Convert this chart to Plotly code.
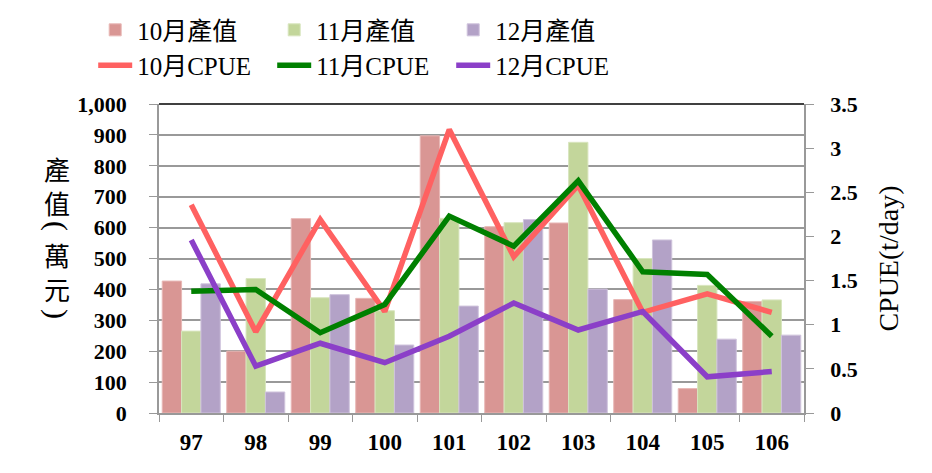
import plotly.graph_objects as go

years = ["97", "98", "99", "100", "101", "102", "103", "104", "105", "106"]
value_oct = [427, 200, 629, 371, 897, 603, 615, 367, 79, 361]
value_nov = [265, 435, 373, 331, 630, 616, 876, 500, 413, 366]
value_dec = [418, 68, 383, 220, 346, 626, 401, 560, 239, 252]
cpue_oct = [2.36, 0.92, 2.19, 1.15, 3.21, 1.77, 2.58, 1.14, 1.35, 1.14]
cpue_nov = [1.38, 1.40, 0.91, 1.23, 2.23, 1.89, 2.63, 1.60, 1.57, 0.87]
cpue_dec = [1.96, 0.53, 0.79, 0.57, 0.87, 1.245, 0.94, 1.15, 0.41, 0.47]
left_title_chars = ["產", "值", "(", "萬", "元", ")"]

serif = "Liberation Serif, Times New Roman, Noto Sans CJK TC"

fig = go.Figure()
bar_specs = [
    ("10月產值", value_oct, "#D99694", "#E8B8B6"),
    ("11月產值", value_nov, "#C3D69B", "#D8E5BE"),
    ("12月產值", value_dec, "#B3A2C7", "#CFC3DC"),
]
for name, vals, col, lc in bar_specs:
    fig.add_trace(go.Bar(x=years, y=vals, name=name,
                         marker=dict(color=col, line=dict(color=lc, width=1))))
line_specs = [
    ("10月CPUE", cpue_oct, "#FF6161"),
    ("11月CPUE", cpue_nov, "#008000"),
    ("12月CPUE", cpue_dec, "#8B3FC8"),
]
for name, vals, col in line_specs:
    fig.add_trace(go.Scatter(x=years, y=vals, name=name, mode="lines", yaxis="y2",
                             line=dict(color=col, width=5.5)))

tickfont = dict(size=22, family=serif, weight="bold", color="black")
fig.update_layout(
    width=932, height=473,
    margin=dict(l=159, r=128, t=104, b=60),
    paper_bgcolor="white", plot_bgcolor="white",
    barmode="group", bargap=0.1, bargroupgap=0,
    font=dict(family=serif, color="black"),
    showlegend=True,
    legend=dict(orientation="h", xref="container", yref="container",
                x=0.1, xanchor="left", y=0.985, yanchor="top",
                font=dict(size=25, family=serif), entrywidth=130, itemwidth=34,
                tracegroupgap=0, traceorder="normal"),
    xaxis=dict(type="category", tickson="boundaries", ticks="outside", ticklen=7,
               tickcolor="#999999", showline=True, linecolor="#999999", linewidth=1.5,
               showgrid=False, tickfont=dict(size=23, family=serif, weight="bold"),
               ticklabelstandoff=8, automargin=False),
    yaxis=dict(range=[0, 1000], dtick=100, tickformat=",d", ticks="outside", ticklen=8,
               tickcolor="#999999", showline=True, linecolor="#999999", linewidth=1.5,
               gridcolor="#999999", gridwidth=1.5, zeroline=False,
               tickfont=tickfont, ticklabelstandoff=18, automargin=False),
    yaxis2=dict(range=[0, 3.5], dtick=0.5, overlaying="y", side="right", ticks="outside",
                ticklen=8, tickcolor="#999999", showline=True, linecolor="#999999", linewidth=1.5,
                showgrid=False, zeroline=False, tickfont=tickfont, ticklabelstandoff=12,
                automargin=False,
                title=dict(text="CPUE(t/day)", font=dict(size=28, family=serif), standoff=22)),
)

fig.add_shape(type="line", xref="paper", yref="paper", x0=0, x1=1, y0=1, y1=1,
              line=dict(color="black", width=1.5))

# left vertical title, characters stacked; parentheses rotated to vertical form
ys_px = [171, 205, 226, 257, 291, 314]
for ch, ypx in zip(left_title_chars, ys_px):
    paren = ch in ("(", ")")
    fig.add_annotation(text=ch, xref="paper", yref="paper",
                       x=(57 - 159) / 645, y=(413 - ypx) / 309,
                       showarrow=False, xanchor="center", yanchor="middle",
                       textangle=90 if paren else 0,
                       font=dict(size=30 if paren else 26,
                                 family="Liberation Serif" if paren else serif))

fig.write_html("out.html")
